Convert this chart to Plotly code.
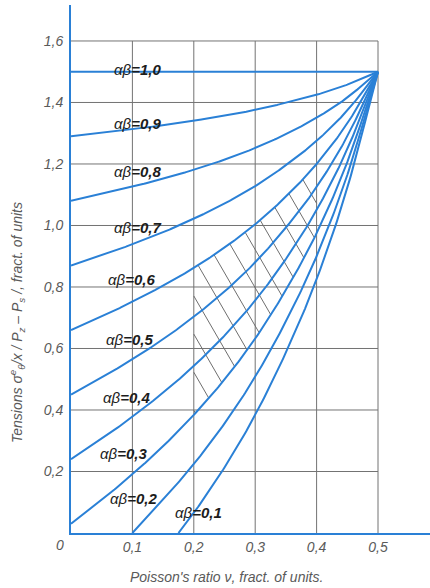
import numpy as np
import plotly.graph_objects as go

# ---------------- data ----------------
nu = [0.00, 0.05, 0.10, 0.15, 0.20, 0.25, 0.30, 0.35, 0.40, 0.45, 0.50]
ab_10 = [1.500, 1.500, 1.500, 1.500, 1.500, 1.500, 1.500, 1.500, 1.500, 1.500, 1.500]
ab_09 = [1.290, 1.301, 1.313, 1.326, 1.341, 1.357, 1.376, 1.399, 1.425, 1.458, 1.500]
ab_08 = [1.080, 1.102, 1.126, 1.152, 1.181, 1.214, 1.252, 1.297, 1.350, 1.416, 1.500]
ab_07 = [0.870, 0.903, 0.939, 0.978, 1.022, 1.071, 1.128, 1.196, 1.275, 1.374, 1.500]
ab_06 = [0.660, 0.704, 0.752, 0.804, 0.862, 0.928, 1.004, 1.094, 1.200, 1.332, 1.500]
ab_05 = [0.450, 0.505, 0.565, 0.630, 0.703, 0.785, 0.880, 0.993, 1.125, 1.290, 1.500]
ab_04 = [0.240, 0.306, 0.378, 0.456, 0.543, 0.642, 0.756, 0.891, 1.050, 1.248, 1.500]
ab_03 = [0.030, 0.107, 0.191, 0.282, 0.384, 0.499, 0.632, 0.790, 0.975, 1.206, 1.500]
nu_02 = [0.10, 0.15, 0.20, 0.25, 0.30, 0.35, 0.40, 0.45, 0.50]
ab_02 = [0.000, 0.108, 0.224, 0.356, 0.508, 0.688, 0.900, 1.164, 1.500]
nu_01 = [0.175, 0.20, 0.25, 0.30, 0.35, 0.40, 0.45, 0.50]
ab_01 = [0.000, 0.065, 0.213, 0.384, 0.587, 0.825, 1.122, 1.500]

curve_names = ["αβ=1,0", "αβ=0,9", "αβ=0,8", "αβ=0,7", "αβ=0,6",
               "αβ=0,5", "αβ=0,4", "αβ=0,3", "αβ=0,2", "αβ=0,1"]
curve_x = [nu, nu, nu, nu, nu, nu, nu, nu, nu_02, nu_01]
curve_y = [ab_10, ab_09, ab_08, ab_07, ab_06, ab_05, ab_04, ab_03, ab_02, ab_01]

# hatched zone: between αβ=0,6 and αβ=0,3 for ν in [0,2; 0,4]
hatch_nu = [0.20, 0.40]

x_ticks = [0.1, 0.2, 0.3, 0.4, 0.5]
x_ticktext = ["0,1", "0,2", "0,3", "0,4", "0,5"]
y_ticks = [0.2, 0.4, 0.6, 0.8, 1.0, 1.2, 1.4, 1.6]
y_ticktext = ["0,2", "0,4", "0,6", "0,8", "1,0", "1,2", "1,4", "1,6"]

# ---------------- layout constants ----------------
W, H = 430, 588
ML, MR, MT, MB = 71, 0, 5, 55
XR = [0.0, 0.5847]
YR = [0.0, 1.717]
BLUE = "#2a80d6"
GRID = "#737373"
FONT = "Liberation Sans"

# label centres (data coords)
label_pos = [(0.109, 1.506), (0.109, 1.333), (0.1075, 1.174), (0.1075, 0.995),
             (0.099, 0.823), (0.0945, 0.628), (0.091, 0.442), (0.0847, 0.257),
             (0.101, 0.111), (0.207, 0.068)]


def smooth(xs, ys, n=24):
    xs = np.asarray(xs, float)
    ys = np.asarray(ys, float)
    P = np.column_stack([xs, ys])
    P = np.vstack([2 * P[0] - P[1], P, 2 * P[-1] - P[-2]])
    out = []
    for i in range(1, len(P) - 2):
        p0, p1, p2, p3 = P[i - 1], P[i], P[i + 1], P[i + 2]
        for t in np.linspace(0, 1, n, endpoint=False):
            t2, t3 = t * t, t * t * t
            pt = 0.5 * ((2 * p1) + (-p0 + p2) * t + (2 * p0 - 5 * p1 + 4 * p2 - p3) * t2
                        + (-p0 + 3 * p1 - 3 * p2 + p3) * t3)
            out.append(pt)
    out.append(P[-2])
    out = np.array(out)
    return out[:, 0], out[:, 1]


fig = go.Figure()

# grid limited to the [0;0,5] x [0;1,6] frame
gx, gy = [], []
for xv in x_ticks:
    gx += [xv, xv, None]
    gy += [0, y_ticks[-1], None]
for yv in y_ticks:
    gx += [0, x_ticks[-1], None]
    gy += [yv, yv, None]
fig.add_trace(go.Scatter(x=gx, y=gy, mode="lines", line=dict(color=GRID, width=1),
                         hoverinfo="skip"))

# hatching
plot_w = W - ML - MR
plot_h = H - MT - MB
px_per_x = plot_w / (XR[1] - XR[0])
px_per_y = plot_h / (YR[1] - YR[0])
slope_px = 1.73                      # screen slope of hatch lines (down-right)
m = slope_px * px_per_x / px_per_y   # in data units
ux, uy = smooth(nu, ab_06)
lx, ly = smooth(nu, ab_03)
xg = np.linspace(hatch_nu[0], hatch_nu[1], 1201)
up = np.interp(xg, ux, uy)
lo = np.interp(xg, lx, ly)
c0 = up[-1] + m * xg[-1] - 0.004
spacing = 0.124
hx, hy = [], []
for k in range(0, 20):
    c = c0 - k * spacing
    yl = c - m * xg
    mask = (yl <= up) & (yl >= lo)
    idx = np.where(mask)[0]
    if len(idx) < 2:
        continue
    i0, i1 = idx[0], idx[-1]
    hx += [xg[i0], xg[i1], None]
    hy += [yl[i0], yl[i1], None]
fig.add_trace(go.Scatter(x=hx, y=hy, mode="lines", line=dict(color="#6e6e6e", width=1),
                         hoverinfo="skip"))

# curves
for xs, ys in zip(curve_x, curve_y):
    sx, sy = smooth(xs, ys)
    fig.add_trace(go.Scatter(x=sx, y=sy, mode="lines", line=dict(color=BLUE, width=2),
                             hoverinfo="skip"))

annotations = []
for name, (lxp, lyp) in zip(curve_names, label_pos):
    a, b = name.split("=")
    annotations.append(dict(x=lxp, y=lyp, xref="x", yref="y", showarrow=False,
                            text=a + "<b>=" + b + "</b>",
                            font=dict(family=FONT, size=15, color="#1c1c1c", style="italic"),
                            xanchor="center", yanchor="middle"))

axfont = dict(family=FONT, size=14, color="#5a5a5a", style="italic")
annotations.append(dict(x=(60 - ML) / plot_w, y=(H - MB - 545) / plot_h, xref="paper", yref="paper",
                        text="0", showarrow=False, font=axfont, xanchor="center", yanchor="middle"))
annotations.append(dict(x=(226 - ML) / plot_w, y=(H - MB - 577) / plot_h, xref="paper", yref="paper",
                        text="Poisson's ratio ν, fract. of units.", showarrow=False,
                        font=axfont, xanchor="center", yanchor="middle"))
annotations.append(dict(x=(17 - ML) / plot_w, y=(H - MB - 323) / plot_h, xref="paper", yref="paper",
                        text="Tensions σ<sup>e</sup><sub>θ</sub>/x / P<sub>z</sub> – P<sub>s</sub> /, fract. of units",
                        showarrow=False, textangle=-90,
                        font=axfont, xanchor="center", yanchor="middle"))

fig.update_layout(
    width=W, height=H,
    margin=dict(l=ML, r=MR, t=MT, b=MB, pad=0, autoexpand=False),
    paper_bgcolor="white", plot_bgcolor="white",
    showlegend=False,
    annotations=annotations,
    xaxis=dict(range=XR, showgrid=False, zeroline=False, showline=True, automargin=False,
               linecolor=BLUE, linewidth=2, tickvals=x_ticks, ticktext=x_ticktext,
               ticks="", tickfont=axfont, ticklabelstandoff=0, fixedrange=True),
    yaxis=dict(range=YR, showgrid=False, zeroline=False, showline=True, automargin=False,
               linecolor=BLUE, linewidth=2, tickvals=y_ticks, ticktext=y_ticktext,
               ticks="", tickfont=axfont, ticklabelstandoff=3, fixedrange=True),
)

fig.write_html("out.html", config={"displayModeBar": False},
               post_script="document.body.style.margin='0';document.body.style.overflow='hidden';")
